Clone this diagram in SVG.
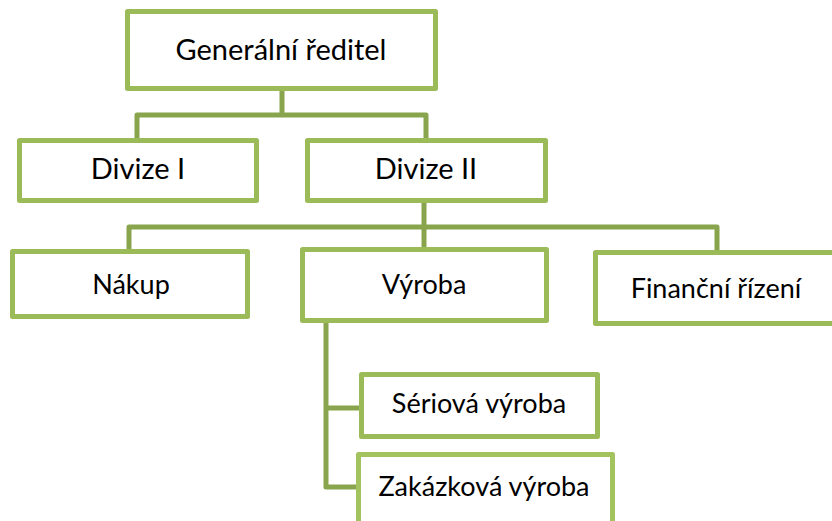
<svg xmlns="http://www.w3.org/2000/svg" width="832" height="521" viewBox="0 0 832 521">
<style>
.box{fill:#ffffff;stroke:#9bbb59;stroke-width:5;stroke-linejoin:round}
.conn{fill:none;stroke:#88a44c;stroke-width:5;stroke-linejoin:round;stroke-linecap:square}
.t1{font-family:Lato,"Open Sans",sans-serif;font-size:29px;fill:#000;text-anchor:middle}
.t2{font-family:Lato,"Open Sans",sans-serif;font-size:27px;fill:#000;text-anchor:middle}
</style>
<rect width="832" height="521" fill="#ffffff"/>
<g id="connectors">
<path class="conn" d="M282,91 V115 M137,138 V115 H426 V138"/>
<path class="conn" d="M424,204 V227 M129,249 V227 H717 V250 M424,227 V248"/>
<path class="conn" d="M326,323 V487 H356 M326,408 H359"/>
</g>
<g id="n-gr"><rect class="box" x="127.5" y="11.5" width="308" height="77"/><text class="t1" x="281" y="60">Generální ředitel</text></g>
<g id="n-d1"><rect class="box" x="19.5" y="140.5" width="237" height="60"/><text class="t1" x="138" y="179">Divize I</text></g>
<g id="n-d2"><rect class="box" x="307.5" y="140.5" width="238" height="60"/><text class="t1" x="426" y="179">Divize II</text></g>
<g id="n-nakup"><rect class="box" x="12.5" y="251.5" width="235" height="65"/><text class="t2" x="131" y="294">Nákup</text></g>
<g id="n-vyroba"><rect class="box" x="302.5" y="249.5" width="244" height="71"/><text class="t2" x="424" y="294">Výroba</text></g>
<g id="n-fin"><rect class="box" x="595.5" y="252.5" width="240" height="71"/><text class="t2" x="716" y="298">Finanční řízení</text></g>
<g id="n-ser"><rect class="box" x="361.5" y="374.5" width="236" height="62"/><text class="t2" x="479" y="413">Sériová výroba</text></g>
<g id="n-zak"><rect class="box" x="358.5" y="454.5" width="254" height="75" style="stroke:#a2c35e"/><text class="t2" x="484" y="496">Zakázková výroba</text></g>
</svg>
